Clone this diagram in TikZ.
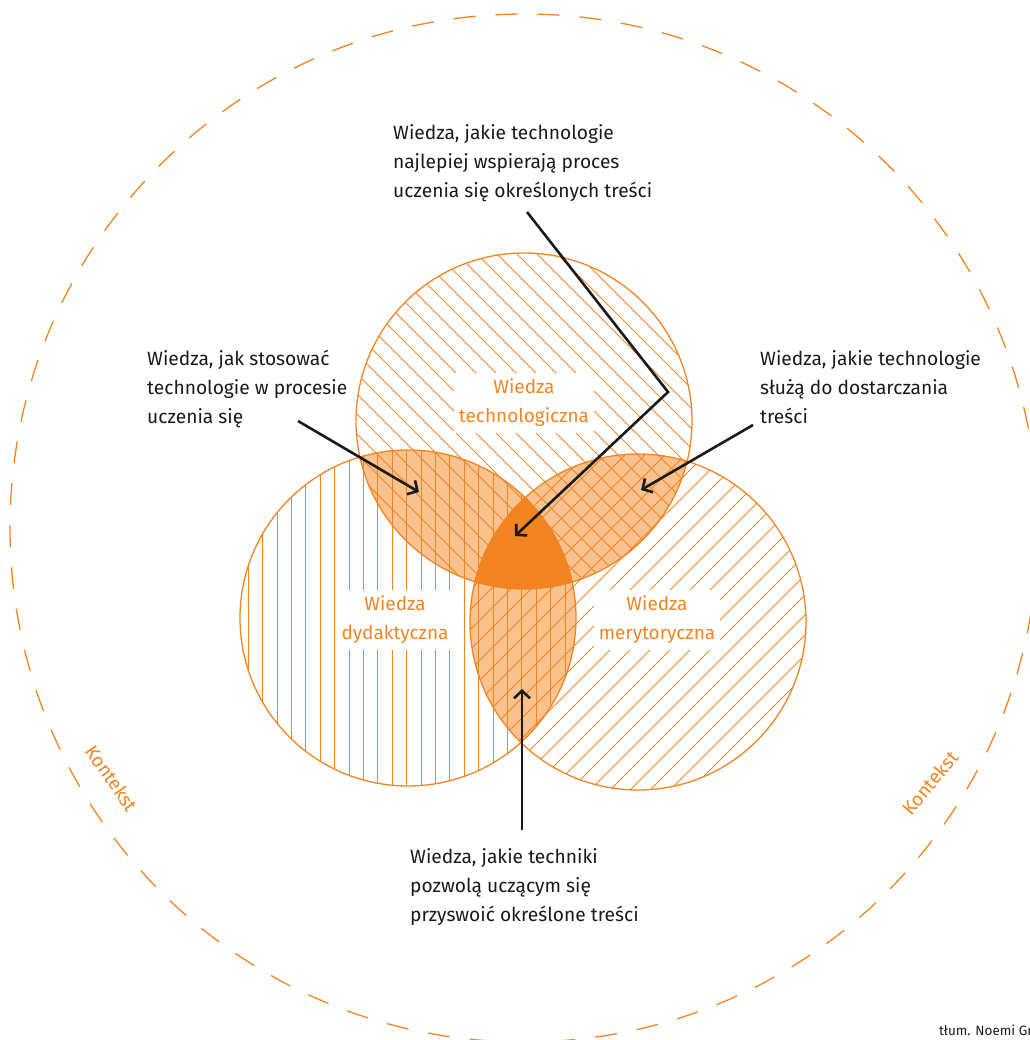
\documentclass[tikz,border=0pt]{standalone}
\usepackage{fontspec}
\setmainfont{Fira Sans}
\usetikzlibrary{arrows.meta}
\definecolor{orng}{HTML}{F28522}
\definecolor{peach}{HTML}{F9C28F}
\definecolor{ink}{HTML}{1A1A1A}
\begin{document}
\begin{tikzpicture}[x=1pt,y=-1pt,
  hatch/.style={orng, line width=0.9pt},
  ring/.style={orng, line width=1.3pt},
  lbl/.style={font=\fontsize{19}{29}\selectfont, text=orng, fill=white, align=center, inner xsep=5pt, inner ysep=6pt},
  note/.style={font=\fontsize{19.2}{29}\selectfont, text=ink, align=left, anchor=north west, inner sep=0pt},
  arr/.style={ink, line width=2.6pt, -{Straight Barb[length=7.5pt,width=16pt]}},
  ctx/.style={font=\fontsize{19}{22}\selectfont, text=orng}]
\useasboundingbox (0,0) rectangle (1029,1040);
\coordinate (T) at (524,421);
\coordinate (L) at (408,618);
\coordinate (R) at (638,622);
\def\rr{168}
% outer context circle
\draw[orng, line width=1.3pt, dash pattern=on 22pt off 20pt] (524,528) circle[radius=514];
% pairwise intersections
\begin{scope}
  \clip (T) circle[radius=\rr];
  \fill[peach] (L) circle[radius=\rr];
  \fill[peach] (R) circle[radius=\rr];
\end{scope}
\begin{scope}
  \clip (L) circle[radius=\rr];
  \fill[peach] (R) circle[radius=\rr];
\end{scope}
\begin{scope}
  \clip (T) circle[radius=\rr];
  \clip (L) circle[radius=\rr];
  \fill[orng] (R) circle[radius=\rr];
\end{scope}
% hatching
\begin{scope}
  \clip (T) circle[radius=\rr];
  \foreach \c in {-360,-340,...,360} \draw[hatch] (T) ++(\c-180,-180) -- ++(360,360);
\end{scope}
\begin{scope}
  \clip (L) circle[radius=\rr];
  \foreach \i in {-12,...,12} \draw[hatch] (L) ++(\i*14.4-1.3,-170) -- ++(0,340);
\end{scope}
\begin{scope}
  \clip (R) circle[radius=\rr];
  \foreach \c in {-360,-340,...,360} \draw[hatch] (R) ++(\c-180,180) -- ++(360,-360);
\end{scope}
% circle labels
\node[lbl] (tech) at (524,403) {Wiedza\\technologiczna};
\node[lbl] (dyd) at (395,620) {Wiedza\\dydaktyczna};
\node[lbl] (mer) at (657,620) {Wiedza\\merytoryczna};
% outlines
\draw[ring] (T) circle[radius=\rr];
\draw[ring] (L) circle[radius=\rr];
\draw[ring] (R) circle[radius=\rr];
% notes
\node[note] (ntop) at (393,124) {Wiedza, jakie technologie\\najlepiej wspierają proces\\uczenia się określonych treści};
\node[note] (nleft) at (147,350) {Wiedza, jak stosować\\technologie w procesie\\uczenia się};
\node[note] (nright) at (760,350) {Wiedza, jakie technologie\\służą do dostarczania\\treści};
\node[note] (nbot) at (410,848) {Wiedza, jakie techniki\\pozwolą uczącym się\\przyswoić określone treści};
% context labels
\node[ctx, rotate=-55] (ctxl) at (112,778) {Kontekst};
\node[ctx, rotate=50] (ctxr) at (930,783) {Kontekst};
\node[font=\fontsize{13.5}{15}\selectfont, text=ink, anchor=base west, inner sep=0pt] (cred) at (939,1035) {tłum. Noemi Gr};
% arrows
\coordinate (s1) at (527,212);
\coordinate (b1) at (668,392);
\coordinate (e1) at (515,536);
\coordinate (s2) at (298,421);
\coordinate (e2) at (419,492);
\coordinate (s3) at (753,425);
\coordinate (e3) at (641,490);
\coordinate (s4) at (522,830);
\coordinate (e4) at (522,689);
\draw[arr] (s1) -- (b1) -- (e1);
\draw[arr] (s2) -- (e2);
\draw[arr] (s3) -- (e3);
\draw[arr] (s4) -- (e4);
\end{tikzpicture}
\end{document}
